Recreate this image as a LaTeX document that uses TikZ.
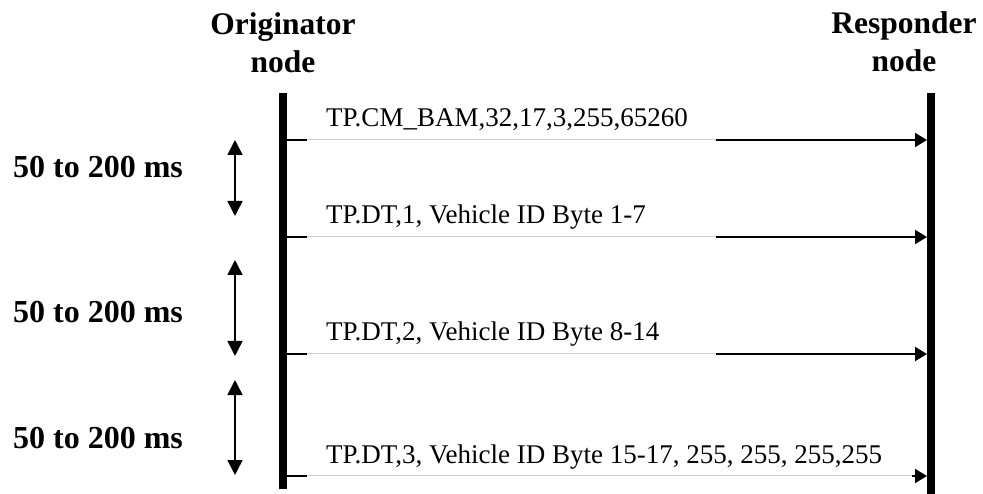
\documentclass[tikz,border=0pt]{standalone}
\usepackage{fontspec}
\setmainfont{Liberation Serif}
\usetikzlibrary{arrows.meta}
\begin{document}
\begin{tikzpicture}[x=1pt,y=-1pt,
  lifeline/.style={line width=8pt},
  msgarrow/.style={line width=2pt,-{Triangle[length=12pt,width=14pt]}},
  gapline/.style={draw=black!18,line width=0.8pt},
  gapwhite/.style={draw=white,line width=3pt},
  msgtext/.style={anchor=base west,inner sep=0pt,font=\fontsize{27}{32}\selectfont},
  header/.style={anchor=base,inner sep=0pt,align=center,font=\fontsize{31.5}{38}\bfseries\selectfont},
  period/.style={line width=1.6pt,{Triangle[length=15pt,width=15pt]}-{Triangle[length=15pt,width=15pt]}},
  periodtext/.style={anchor=base,inner sep=0pt,font=\fontsize{32}{36}\bfseries\selectfont}]
\useasboundingbox (0,0) rectangle (983,494);
% lifelines
\coordinate (otop) at (283,93);
\coordinate (obot) at (283,489);
\coordinate (rtop) at (931,93);
\coordinate (rbot) at (931,494);
\draw[lifeline] (otop) -- (obot);
\draw[lifeline] (rtop) -- (rbot);
% headers
\node[header] (orig) at (283,73) {Originator\\node};
\node[header] (resp) at (904,72) {Responder\\node};
% messages
\foreach \i/\y/\ge in {1/140/716,2/237/716,3/354/716,4/476/912}{
  \coordinate (ms\i) at (287,\y);
  \coordinate (me\i) at (927,\y);
  \coordinate (gs\i) at (307,\y);
  \coordinate (ge\i) at (\ge,\y);
  \draw[msgarrow] (ms\i) -- (me\i);
  \draw[gapwhite] (gs\i) -- (ge\i);
  \draw[gapline] ([yshift=0.6pt]gs\i) -- ([yshift=0.6pt]ge\i);
}
\node[msgtext] (t1) at (326,127) {TP.CM\_BAM,32,17,3,255,65260};
\node[msgtext] (t2) at (326,224) {TP.DT,1, Vehicle ID Byte 1-7};
\node[msgtext] (t3) at (326,341) {TP.DT,2, Vehicle ID Byte 8-14};
\node[msgtext] (t4) at (326,463) {TP.DT,3, Vehicle ID Byte 15-17, 255, 255, 255,255};
% periods
\coordinate (pa1) at (235,140); \coordinate (pb1) at (235,216);
\coordinate (pa2) at (235,260); \coordinate (pb2) at (235,356);
\coordinate (pa3) at (235,380); \coordinate (pb3) at (235,475);
\draw[period] (pa1) -- (pb1);
\draw[period] (pa2) -- (pb2);
\draw[period] (pa3) -- (pb3);
\node[periodtext] (p1) at (98,178) {50 to 200 ms};
\node[periodtext] (p2) at (98,323) {50 to 200 ms};
\node[periodtext] (p3) at (98,448) {50 to 200 ms};
\end{tikzpicture}
\end{document}
